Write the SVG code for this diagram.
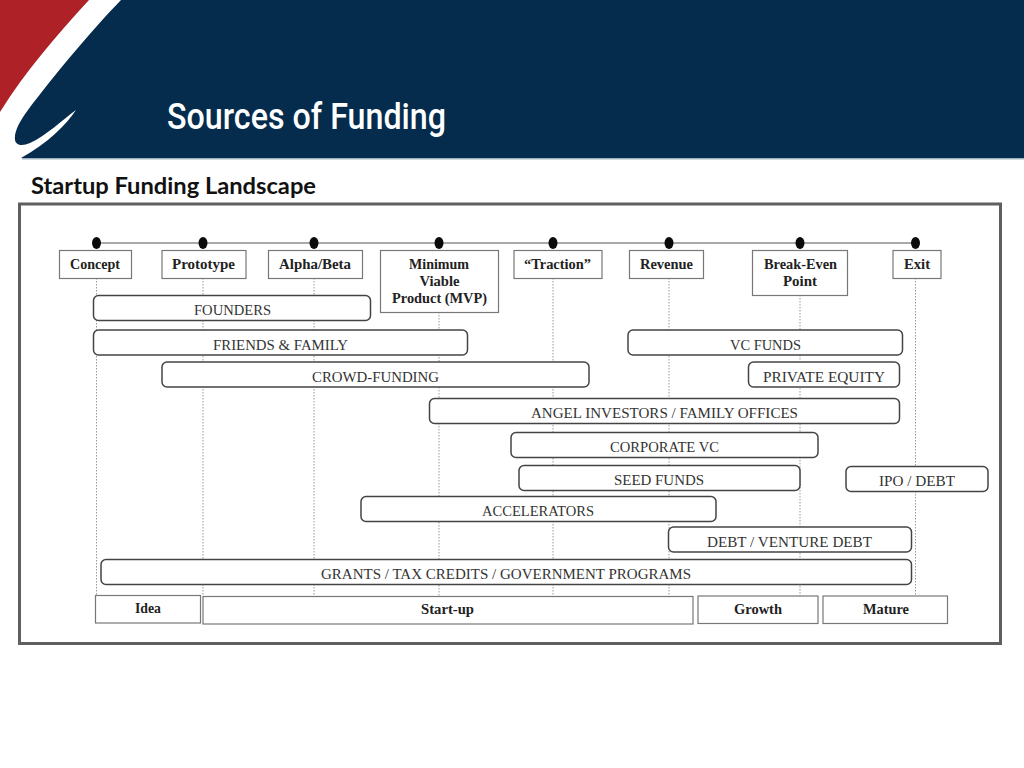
<svg xmlns="http://www.w3.org/2000/svg" width="1024" height="768" viewBox="0 0 1024 768">
<style>
.lb{font-family:"Liberation Serif",serif;font-size:14px;font-weight:bold;fill:#222;text-anchor:middle}
.fd{font-family:"Liberation Serif",serif;font-size:14px;fill:#333;text-anchor:middle}
.bx{fill:#fff;stroke:#777;stroke-width:1.2}
.rr{fill:#fff;stroke:#444;stroke-width:1.5}
.dl{stroke:#999;stroke-width:1;stroke-dasharray:1.5 1.5;fill:none}
.dot{fill:#0a0a0a}
</style>
<rect width="1024" height="768" fill="#fff"/>
<g id="banner">
<rect x="22" y="158" width="1002" height="1.5" fill="#9fb3bf"/>
<path d="M0 0H89C55 37 25 72 0 112Z" fill="#ae2127"/>
<path d="M121 0C90 32 52 78 28 110C19 122 14 132 15 140C16 146 23 146 30 143C46 136 62 120 76 110C66 125 48 143 21 158H1024V0Z" fill="#052c4d"/>
<text x="167" y="129" font-family="Roboto,'Liberation Sans',sans-serif" font-size="36" font-weight="500" fill="#fff" textLength="279" lengthAdjust="spacingAndGlyphs">Sources of Funding</text>
</g>
<text id="subtitle" x="31" y="194" font-family="Lato,'Open Sans',sans-serif" font-size="23" font-weight="bold" fill="#111" textLength="285" lengthAdjust="spacingAndGlyphs">Startup Funding Landscape</text>
<rect id="frame" x="19.500" y="204" width="981" height="439.500" fill="#fff" stroke="#5f5f5f" stroke-width="3"/>
<g id="connectors">
<path d="M96.500 243H915.500" stroke="#555" stroke-width="1.200" fill="none"/>
<path class="dl" d="M96.500 278V596M203 278V596M314 278V596M439 312V596M553 278V596M669 278V596M800 295V596M915.500 278V596"/>
</g>
<g id="milestones">
<ellipse class="dot" cx="96.500" cy="243" rx="4.500" ry="6"/>
<ellipse class="dot" cx="203" cy="243" rx="4.500" ry="6"/>
<ellipse class="dot" cx="314" cy="243" rx="4.500" ry="6"/>
<ellipse class="dot" cx="439" cy="243" rx="4.500" ry="6"/>
<ellipse class="dot" cx="553" cy="243" rx="4.500" ry="6"/>
<ellipse class="dot" cx="669" cy="243" rx="4.500" ry="6"/>
<ellipse class="dot" cx="800" cy="243" rx="4.500" ry="6"/>
<ellipse class="dot" cx="915.500" cy="243" rx="4.500" ry="6"/>
</g>
<g id="n-concept"><rect class="bx" x="59.500" y="250.500" width="72" height="28"/><text class="lb" x="95" y="269" textLength="50" lengthAdjust="spacingAndGlyphs">Concept</text></g>
<g id="n-prototype"><rect class="bx" x="162" y="250.500" width="84" height="28"/><text class="lb" x="203.500" y="269" textLength="63" lengthAdjust="spacingAndGlyphs">Prototype</text></g>
<g id="n-alpha"><rect class="bx" x="268.500" y="250.500" width="94" height="28"/><text class="lb" x="315" y="269" textLength="72" lengthAdjust="spacingAndGlyphs">Alpha/Beta</text></g>
<g id="n-mvp"><rect class="bx" x="380.500" y="250.500" width="118" height="62"/><text class="lb" x="439" y="269" textLength="60" lengthAdjust="spacingAndGlyphs">Minimum</text><text class="lb" x="439.500" y="286" textLength="40" lengthAdjust="spacingAndGlyphs">Viable</text><text class="lb" x="439.500" y="303" textLength="95" lengthAdjust="spacingAndGlyphs">Product (MVP)</text></g>
<g id="n-traction"><rect class="bx" x="514" y="250.500" width="88" height="28"/><text class="lb" x="557.500" y="269" textLength="67" lengthAdjust="spacingAndGlyphs">“Traction”</text></g>
<g id="n-revenue"><rect class="bx" x="629.500" y="250.500" width="74" height="28"/><text class="lb" x="666.500" y="269" textLength="53" lengthAdjust="spacingAndGlyphs">Revenue</text></g>
<g id="n-breakeven"><rect class="bx" x="752.500" y="250.500" width="95" height="45"/><text class="lb" x="800.500" y="269" textLength="73" lengthAdjust="spacingAndGlyphs">Break-Even</text><text class="lb" x="800" y="286" textLength="34" lengthAdjust="spacingAndGlyphs">Point</text></g>
<g id="n-exit"><rect class="bx" x="893" y="250.500" width="48" height="28"/><text class="lb" x="917" y="269" textLength="26" lengthAdjust="spacingAndGlyphs">Exit</text></g>
<g id="f-founders"><rect class="rr" x="93.500" y="295.500" width="277" height="25" rx="5"/><text class="fd" x="232.500" y="314.500" textLength="77" lengthAdjust="spacingAndGlyphs">FOUNDERS</text></g>
<g id="f-friends"><rect class="rr" x="93.500" y="330" width="374" height="25" rx="5"/><text class="fd" x="280.500" y="349.500" textLength="135" lengthAdjust="spacingAndGlyphs">FRIENDS &amp; FAMILY</text></g>
<g id="f-vc"><rect class="rr" x="628" y="330" width="274.500" height="25" rx="5"/><text class="fd" x="765.500" y="349.500" textLength="71" lengthAdjust="spacingAndGlyphs">VC FUNDS</text></g>
<g id="f-crowd"><rect class="rr" x="162" y="362" width="427" height="25" rx="5"/><text class="fd" x="375.500" y="381.500" textLength="127" lengthAdjust="spacingAndGlyphs">CROWD-FUNDING</text></g>
<g id="f-pe"><rect class="rr" x="748.500" y="362" width="151" height="25" rx="5"/><text class="fd" x="824" y="381.500" textLength="122" lengthAdjust="spacingAndGlyphs">PRIVATE EQUITY</text></g>
<g id="f-angel"><rect class="rr" x="429.500" y="398.500" width="470" height="25" rx="5"/><text class="fd" x="664.500" y="417.500" textLength="267" lengthAdjust="spacingAndGlyphs">ANGEL INVESTORS / FAMILY OFFICES</text></g>
<g id="f-corp"><rect class="rr" x="511" y="432.500" width="307" height="25" rx="5"/><text class="fd" x="664.500" y="451.500" textLength="109" lengthAdjust="spacingAndGlyphs">CORPORATE VC</text></g>
<g id="f-seed"><rect class="rr" x="519" y="465.500" width="281" height="25" rx="5"/><text class="fd" x="659" y="485" textLength="90" lengthAdjust="spacingAndGlyphs">SEED FUNDS</text></g>
<g id="f-ipo"><rect class="rr" x="846" y="466.500" width="142" height="25" rx="5"/><text class="fd" x="917" y="486" textLength="76" lengthAdjust="spacingAndGlyphs">IPO / DEBT</text></g>
<g id="f-accel"><rect class="rr" x="361" y="496.500" width="355" height="25" rx="5"/><text class="fd" x="538" y="515.500" textLength="112" lengthAdjust="spacingAndGlyphs">ACCELERATORS</text></g>
<g id="f-debt"><rect class="rr" x="668.500" y="527" width="243" height="25" rx="5"/><text class="fd" x="789.500" y="546.500" textLength="165" lengthAdjust="spacingAndGlyphs">DEBT / VENTURE DEBT</text></g>
<g id="f-grants"><rect class="rr" x="101" y="559.500" width="810.500" height="25" rx="5"/><text class="fd" x="506" y="579" textLength="370" lengthAdjust="spacingAndGlyphs">GRANTS / TAX CREDITS / GOVERNMENT PROGRAMS</text></g>
<g id="s-idea"><rect class="bx" x="95.500" y="595.500" width="105" height="27.500"/><text class="lb" x="148" y="613" textLength="26" lengthAdjust="spacingAndGlyphs">Idea</text></g>
<g id="s-startup"><rect class="bx" x="203" y="596.500" width="490" height="27.500"/><text class="lb" x="447.500" y="614" textLength="53" lengthAdjust="spacingAndGlyphs">Start-up</text></g>
<g id="s-growth"><rect class="bx" x="698" y="596" width="120" height="27.500"/><text class="lb" x="758" y="613.500" textLength="48" lengthAdjust="spacingAndGlyphs">Growth</text></g>
<g id="s-mature"><rect class="bx" x="823" y="596" width="124.500" height="27.500"/><text class="lb" x="886" y="613.500" textLength="46" lengthAdjust="spacingAndGlyphs">Mature</text></g>
</svg>
